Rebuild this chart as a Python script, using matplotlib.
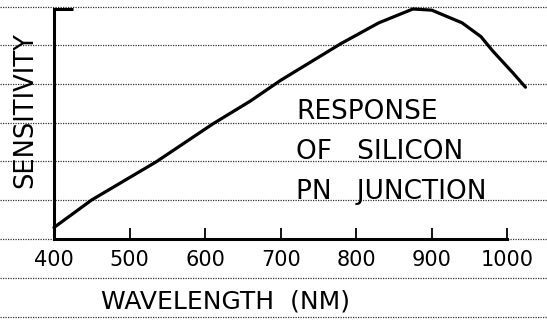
#!/usr/bin/env python3
# Hand-drawn style plot: spectral response of a silicon PN junction.

from matplotlib import pyplot as plt
from matplotlib.lines import Line2D

# Curve (wavelength in nm, relative sensitivity)
wavelength = [400, 450, 535, 610, 660, 700, 780, 830, 875, 900, 940, 965, 980, 1008, 1024]
sensitivity = [0.05, 0.17, 0.335, 0.50, 0.60, 0.69, 0.85, 0.94, 1.0, 0.995, 0.94, 0.88, 0.82, 0.72, 0.66]

tick_values = [400, 500, 600, 700, 800, 900, 1000]
tick_labels = ["400", "500", "600", "700", "800", "900", "1000"]

W, H = 547, 325
fig = plt.figure(figsize=(W / 100, H / 100), dpi=100)
fig.patch.set_facecolor("white")

# ruled paper lines (pixel rows from the top)
for py in [7, 45, 84, 123, 161, 200, 239, 278, 317]:
    fig.add_artist(Line2D([0, 1], [1 - py / H, 1 - py / H], transform=fig.transFigure,
                          color="#333333", lw=0.9, ls=(0, (1, 1)), zorder=0))

# axes placed so 400 nm sits at x=54 px and 1000 nm at x=507 px
left, right = 54 / W, 530 / W
bottom, top = 1 - 239 / H, 1 - 9 / H
ax = fig.add_axes([left, bottom, right - left, top - bottom])
ax.set_facecolor("none")
ax.set_xlim(400, 1030)
ax.set_ylim(0, 1)

ax.plot(wavelength, sensitivity, color="black", lw=2.3, solid_capstyle="round",
        solid_joinstyle="round", clip_on=False)

for side in ["top", "right"]:
    ax.spines[side].set_visible(False)
ax.spines["left"].set_linewidth(2.2)
ax.spines["bottom"].set_linewidth(2.2)
ax.spines["bottom"].set_bounds(400, 1000)

ax.set_xticks(tick_values)
ax.set_xticklabels(tick_labels)
ax.tick_params(axis="x", direction="in", length=8, width=1.3, pad=8, labelsize=15)
ax.set_yticks([1.0])
ax.set_yticklabels([""])
ax.tick_params(axis="y", direction="in", length=14, width=2.2)

fig.text(225 / W, 1 - 302 / H, "WAVELENGTH  (NM)", ha="center", va="center", fontsize=18)
fig.text(25 / W, 1 - 110 / H, "SENSITIVITY", ha="center", va="center",
         rotation=90, fontsize=18.5)

for i, line in enumerate(["RESPONSE", "OF   SILICON", "PN   JUNCTION"]):
    fig.text(296 / W, 1 - (112 + 40 * i) / H, line, ha="left", va="center", fontsize=19)

fig.savefig("out.png", dpi=100)
